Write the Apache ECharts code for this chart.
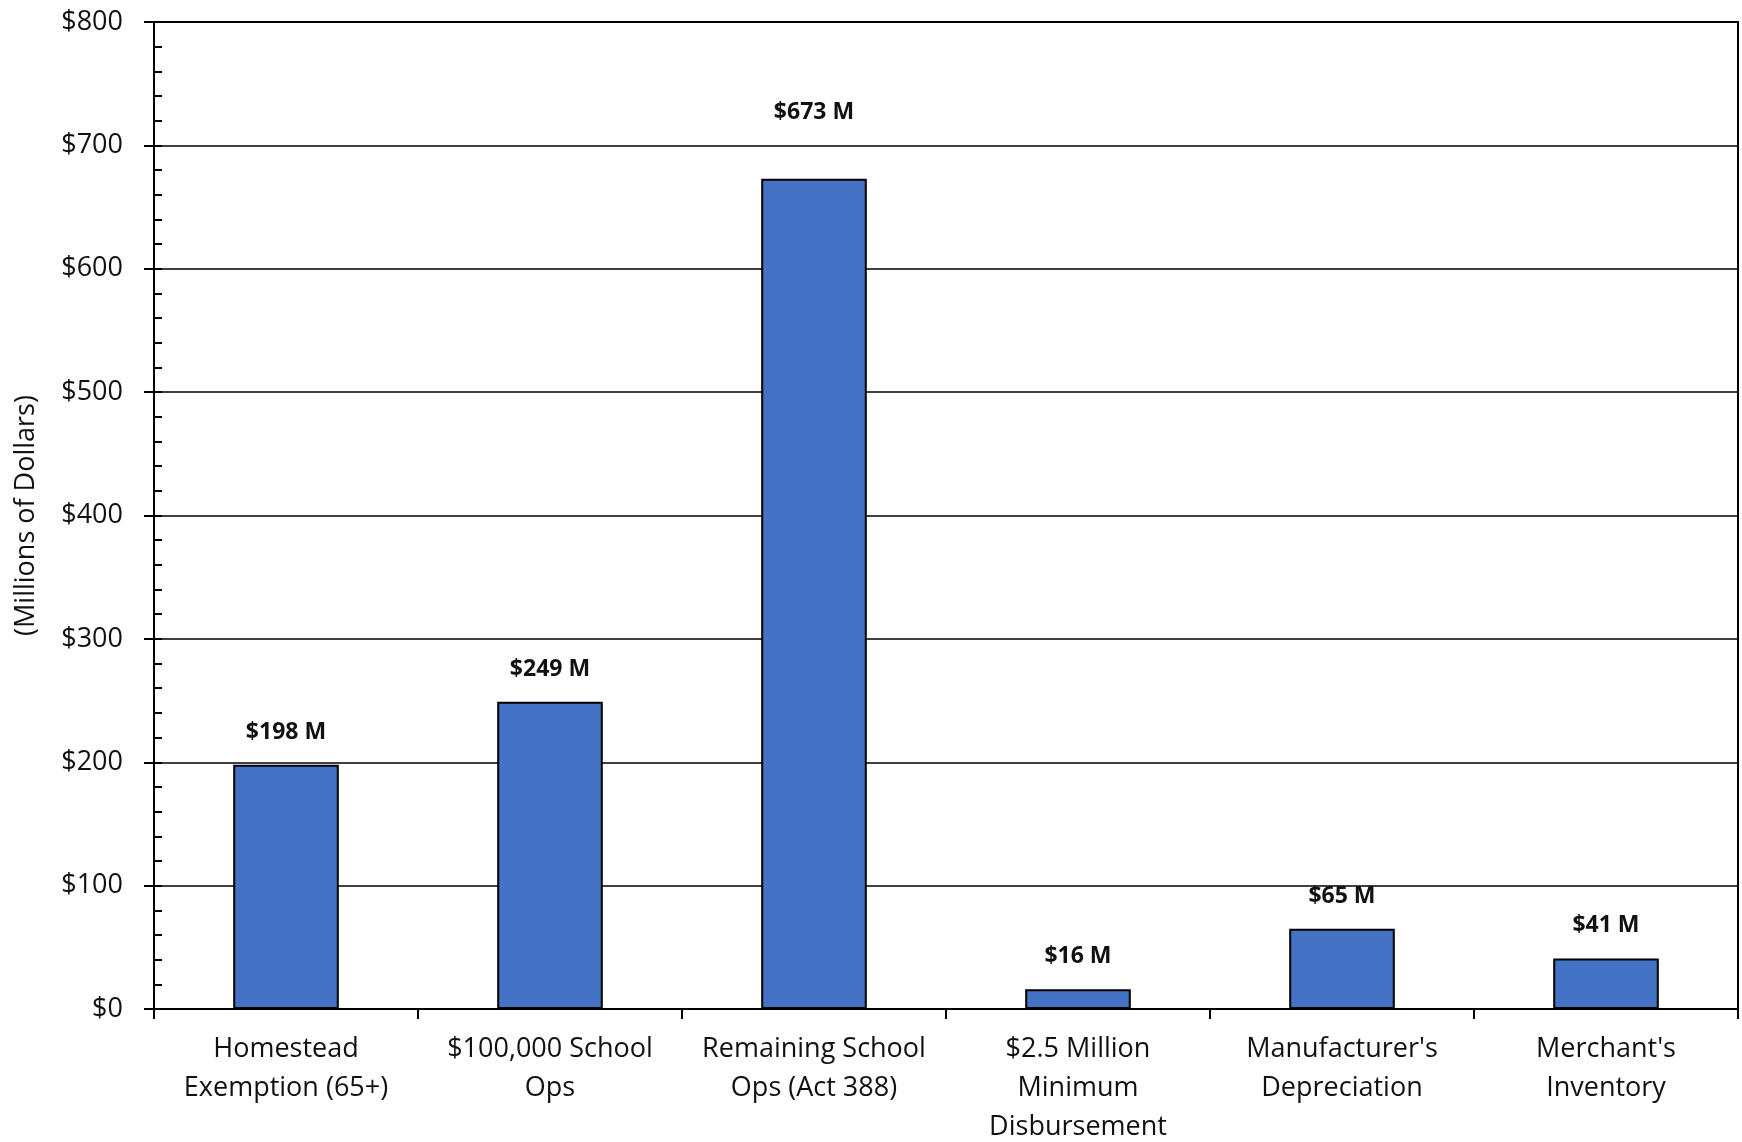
<!DOCTYPE html>
<html>
<head>
<meta charset="utf-8">
<script src="https://cdn.jsdelivr.net/npm/echarts@6/dist/echarts.min.js"></script>
<style>
  html, body { margin: 0; padding: 0; background: #fff; }
  #chart { width: 1742px; height: 1142px; }
</style>
</head>
<body>
<div id="chart"></div>
<script>
const categories = [
  "Homestead\nExemption (65+)",
  "$100,000 School\nOps",
  "Remaining School\nOps (Act 388)",
  "$2.5 Million\nMinimum\nDisbursement",
  "Manufacturer's\nDepreciation",
  "Merchant's\nInventory",
];
const values = [198, 249, 673, 16, 65, 41];
const yTicks = [0, 100, 200, 300, 400, 500, 600, 700, 800];

const font = "'Open Sans', 'Noto Sans', sans-serif";
const black = "#000";

const chart = echarts.init(document.getElementById("chart"), null, { renderer: "canvas" });

chart.setOption({
  animation: false,
  grid: {
    left: 154, right: 4, top: 22, bottom: 133,
    outerBoundsMode: "none",
    containLabel: false,
    show: true, borderColor: black, borderWidth: 2, backgroundColor: "transparent",
  },
  xAxis: {
    type: "category",
    data: categories,
    axisLine: { lineStyle: { color: black, width: 2 } },
    axisTick: { show: true, interval: 0, length: 10, lineStyle: { color: black, width: 2 } },
    axisLabel: { interval: 0, color: "#111", fontFamily: font, fontSize: 27, lineHeight: 39, margin: 21 },
  },
  yAxis: [
    {
      type: "value",
      position: "left",
      min: yTicks[0],
      max: yTicks[yTicks.length - 1],
      interval: 100,
      name: "(Millions of Dollars)",
      nameLocation: "middle",
      nameGap: 114,
      nameTextStyle: { color: "#111", fontFamily: font, fontSize: 27 },
      axisLine: { show: true, lineStyle: { color: black, width: 2 } },
      axisTick: { show: true, length: 10, lineStyle: { color: black, width: 2 } },
      axisLabel: { color: "#111", fontFamily: font, fontSize: 27, margin: 31, formatter: (v) => "$" + v },
      splitLine: { lineStyle: { color: black, width: 1.5 } },
    },
    {
      // minor ticks drawn inside the plot
      type: "value",
      position: "left",
      min: 0,
      max: 800,
      interval: 20,
      axisLine: { show: false },
      axisTick: { show: true, inside: true, length: 8, lineStyle: { color: black, width: 2 } },
      axisLabel: { show: false },
      splitLine: { show: false },
    },
  ],
  series: [
    {
      type: "bar",
      yAxisIndex: 0,
      barWidth: "40%",
      data: values.map((v, i) => (i === 2 ? { value: v, label: { distance: 55 } } : v)),
      itemStyle: { color: "#4472C4", borderColor: black, borderWidth: 2 },
      label: {
        show: true,
        position: "top",
        distance: 21,
        color: "#111",
        fontFamily: font,
        fontWeight: "bold",
        fontSize: 23,
        formatter: (p) => "$" + p.value + " M",
      },
    },
  ],
});
</script>
</body>
</html>
